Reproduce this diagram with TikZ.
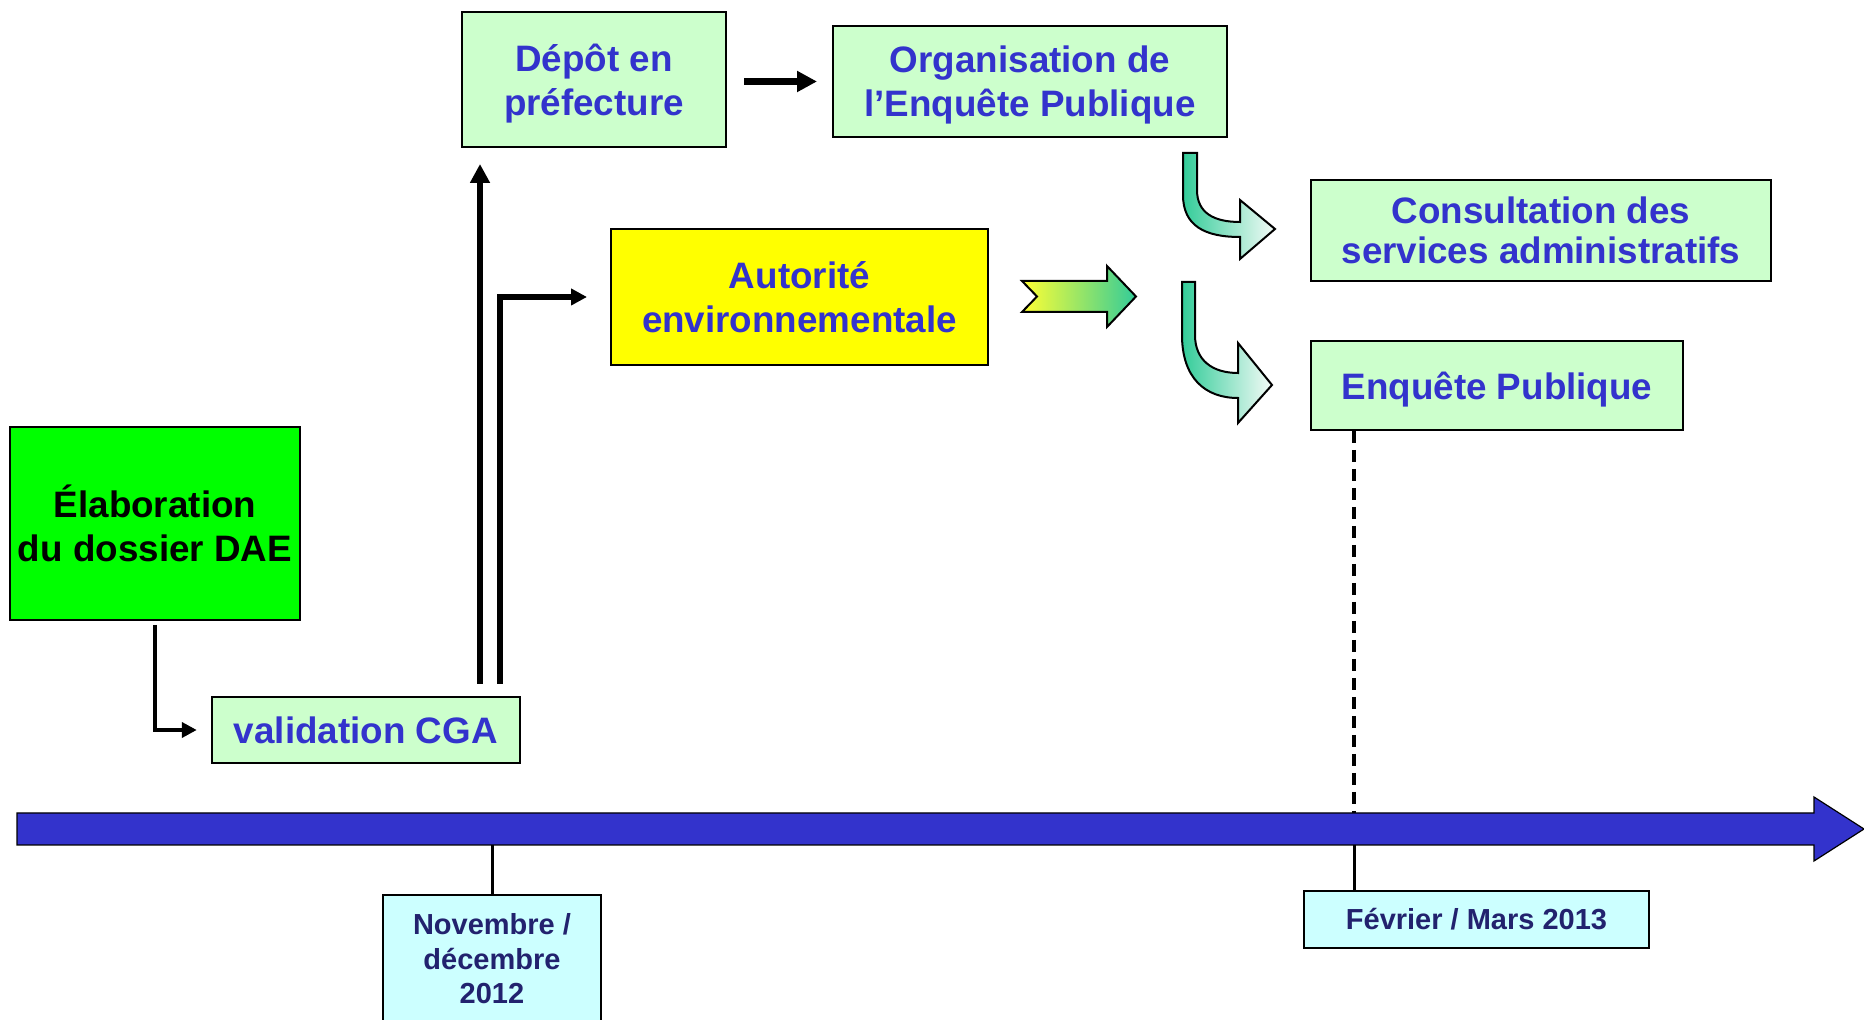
\documentclass[tikz,border=0pt]{standalone}
\usepackage{fontspec}
\setmainfont{Liberation Sans}
\usetikzlibrary{arrows.meta}

\definecolor{vertclair}{HTML}{CCFFCC}
\definecolor{vertvif}{HTML}{00FF00}
\definecolor{jaune}{HTML}{FFFF00}
\definecolor{bleutexte}{HTML}{3333CC}
\definecolor{bleuaxe}{HTML}{3333CC}
\definecolor{cyanclair}{HTML}{CCFFFF}
\definecolor{bleunuit}{RGB}{34,34,110}
\definecolor{turquoise}{HTML}{33CC99}
\definecolor{jaunevif}{HTML}{FFFF33}
\definecolor{blancvert}{HTML}{F4FBF7}

\tikzset{
  boite/.style={draw, line width=1pt, fill=vertclair, text=bleutexte, inner sep=0pt,
    align=center, font=\bfseries\fontsize{18.4}{22}\selectfont},
  datebox/.style={draw, line width=1pt, fill=cyanclair, text=bleunuit, inner sep=0pt,
    align=center, font=\bfseries\fontsize{14.5}{17.3}\selectfont},
  fleche/.style={line width=3pt, -{Triangle[length=9.5pt,width=9.5pt]}},
}

\begin{document}
\begin{tikzpicture}[x=0.5pt,y=-0.5pt]
  \useasboundingbox (0,0) rectangle (1864,1020);

  % Kästen
  \node[boite, fill=vertvif, text=black, minimum width=145pt, minimum height=96.5pt]
    (elab) at (155,523.5) {Élaboration\\du dossier DAE};
  \node[boite, minimum width=154pt, minimum height=33pt]
    (valid) at (365.8,730) {validation CGA};
  \node[boite, text depth=0pt, minimum width=132pt, minimum height=67.5pt]
    (depot) at (594,79.5) {Dépôt en\\préfecture};
  \node[boite, text depth=0pt, minimum width=197pt, minimum height=55.5pt]
    (orga) at (1030,81.5) {Organisation de\\l’Enquête Publique};
  \node[boite, fill=jaune, minimum width=188.5pt, minimum height=68pt]
    (auto) at (799.5,297) {Autorité\\environnementale};
  \node[boite, font=\bfseries\fontsize{18.4}{20}\selectfont, minimum width=230pt, minimum height=50.5pt]
    (consult) at (1541,230.5) {Consultation des\\services administratifs};
  \node[boite, text depth=0pt, minimum width=186pt, minimum height=44.5pt]
    (enq) at (1497,385.5) {Enquête Publique};

  % Daten
  \node[datebox, minimum width=109pt, minimum height=64pt]
    (nov) at (492,959) {Novembre /\\décembre\\2012};
  \node[datebox, minimum width=172.5pt, minimum height=28.5pt]
    (fev) at (1476.5,919.5) {Février / Mars 2013};

  % Pfeile
  \coordinate (d1) at (480,684);
  \coordinate (d2) at (500,684);
  \draw[line width=2.2pt, -{Triangle[length=7.5pt,width=7.5pt]}, shorten <=2pt, shorten >=7pt]
    (elab.south) |- (valid.west);
  \draw[fleche, shorten >=8pt] (d1) -- (d1 |- depot.south);
  \draw[line width=2.8pt, -{Triangle[length=8pt,width=8pt]}, shorten >=11.5pt]
    (d2) |- (auto.west);
  \draw[line width=3.5pt, -{Triangle[length=10pt,width=10pt]}, shorten <=8.5pt, shorten >=7.5pt]
    ([yshift=-1pt]depot.east) -- ([yshift=-1pt]depot.east -| orga.west);

  % Verlaufspfeile
  \shadedraw[left color=jaunevif, right color=turquoise, line width=1pt]
    (1022,281) -- (1107,281) -- (1107,266) -- (1136,296.5) -- (1107,327)
    -- (1107,312) -- (1022,312) -- (1037,296.5) -- cycle;
  \shadedraw[left color=turquoise, right color=blancvert, line width=1pt]
    (1183,153) -- (1183,195) .. controls (1183,226) and (1205,237) .. (1240,237)
    -- (1240,259) -- (1275,229) -- (1240,200) -- (1240,222)
    .. controls (1214,222) and (1197,213) .. (1197,190) -- (1197,153) -- cycle;
  \shadedraw[left color=turquoise, right color=blancvert, line width=1pt]
    (1182,282) -- (1182,335) .. controls (1182,378) and (1205,398) .. (1238,398)
    -- (1238,423) -- (1272,385) -- (1238,343) -- (1238,373)
    .. controls (1212,373) and (1195,360) .. (1195,335) -- (1195,282) -- cycle;

  % Zeitachse mit Markierungen
  \coordinate (t1) at (492,829);
  \coordinate (t2) at (1354,829);
  \draw[line width=1.5pt] (t1) -- (nov.north);
  \draw[line width=1.5pt] (t2) -- (t2 |- fev.north);
  \draw[line width=2pt, dash pattern=on 6pt off 3.5pt] (t2 |- enq.south) -- (t2);
  \draw[line width=0.6pt, fill=bleuaxe] (17,813) -- (1814,813) -- (1814,797) -- (1864,829)
    -- (1814,861) -- (1814,845) -- (17,845) -- cycle;

\end{tikzpicture}
\end{document}
